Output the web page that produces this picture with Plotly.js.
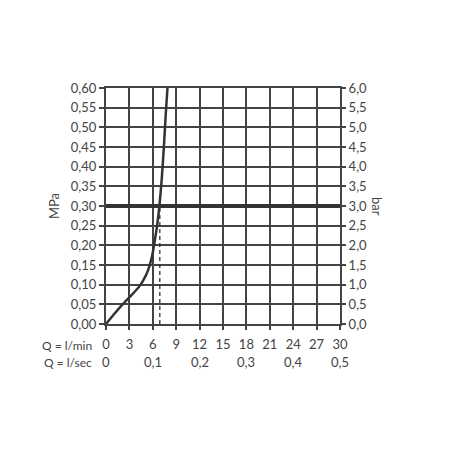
<!DOCTYPE html>
<html>
<head>
<meta charset="utf-8">
<script src="https://cdn.plot.ly/plotly-3.0.1.min.js"></script>
<style>html,body{margin:0;padding:0;background:#fff;}#chart{width:450px;height:450px;}</style>
</head>
<body>
<div id="chart"></div>
<script>
// Flow curve: Q (l/min) vs pressure (MPa)
const flowLmin = [0, 0.94, 2.13, 3.3, 4.0, 4.5, 5.0, 5.4, 5.75, 6.0, 6.2, 6.55, 6.85, 7.15, 7.42, 7.65, 7.88];
const pressureMPa = [0, 0.023, 0.05, 0.074, 0.089, 0.102, 0.119, 0.137, 0.16, 0.182, 0.205, 0.25, 0.30, 0.37, 0.45, 0.53, 0.60];
// Operating point (dashed drop line)
const opFlow = [6.9, 6.9];
const opPressure = [0, 0.30];
// Reference pressure line
const refX = [0, 30];
const refPressure = [0.30, 0.30];
// Secondary flow scale (l/sec)
const flowLsec = [0, 0.1, 0.2, 0.3, 0.4, 0.5];
const flowLsecLabels = ['0', '0,1', '0,2', '0,3', '0,4', '0,5'];

const ink = '#333333';
const grid = '#444444';
const txt = '#444444';
const fontFam = 'Lato, "DejaVu Sans", sans-serif';

const traces = [
  {x: refX, y: refPressure, mode: 'lines', line: {color: ink, width: 4}, hoverinfo: 'skip'},
  {x: opFlow, y: opPressure, mode: 'lines', line: {color: ink, width: 1.3, dash: '4px,3px'}, hoverinfo: 'skip'},
  {x: flowLmin, y: pressureMPa, mode: 'lines', line: {color: ink, width: 2.5, shape: 'spline', smoothing: 0.6}}
];

const annotations = flowLsec.map((v, i) => ({
  x: v * 60, y: 0, xref: 'x', yref: 'paper', yshift: -38, text: flowLsecLabels[i],
  showarrow: false, font: {family: fontFam, size: 13, color: txt}, xanchor: 'center', yanchor: 'middle'
}));
annotations.push({x: 0, y: 0, xref: 'paper', yref: 'paper', xshift: -12, yshift: -21, text: 'Q = l/min',
  showarrow: false, xanchor: 'right', yanchor: 'middle', font: {family: fontFam, size: 12, color: txt}});
annotations.push({x: 0, y: 0, xref: 'paper', yref: 'paper', xshift: -12, yshift: -38, text: 'Q = l/sec',
  showarrow: false, xanchor: 'right', yanchor: 'middle', font: {family: fontFam, size: 12, color: txt}});
annotations.push({x: 1, y: 0.5, xref: 'paper', yref: 'paper', xshift: 37, text: 'bar', textangle: 90,
  showarrow: false, xanchor: 'center', yanchor: 'middle', font: {family: fontFam, size: 13, color: txt}});

const layout = {
  width: 450, height: 450,
  margin: {l: 106, r: 110, t: 88, b: 126},
  separators: ', ',
  showlegend: false,
  paper_bgcolor: '#fff', plot_bgcolor: '#fff',
  font: {family: fontFam, size: 13, color: txt},
  xaxis: {range: [0, 30], dtick: 3, tick0: 0, showgrid: true, gridcolor: grid, gridwidth: 2,
    showline: true, linecolor: grid, linewidth: 2, mirror: true, ticks: 'outside', ticklen: 4,
    tickcolor: grid, tickwidth: 2, zeroline: false, fixedrange: true, ticklabelstandoff: 3},
  yaxis: {range: [0, 0.6], dtick: 0.05, tick0: 0, tickformat: '.2f', showgrid: true, gridcolor: grid, gridwidth: 2,
    showline: true, linecolor: grid, linewidth: 2, mirror: true, ticks: 'outside', ticklen: 5,
    tickcolor: grid, tickwidth: 2, zeroline: false, fixedrange: true,
    title: {text: 'MPa', standoff: 8, font: {family: fontFam, size: 13, color: txt}}},
  yaxis2: {range: [0, 6], dtick: 0.5, tick0: 0, tickformat: '.1f', overlaying: 'y', side: 'right',
    showgrid: false, showline: false, ticks: 'outside', ticklen: 5, tickcolor: grid, tickwidth: 2,
    zeroline: false, fixedrange: true},
  annotations: annotations
};
// invisible trace so the right (bar) axis is drawn
traces.push({x: [0], y: [0], yaxis: 'y2', mode: 'markers', marker: {opacity: 0}, hoverinfo: 'skip'});

Plotly.newPlot('chart', traces, layout, {displayModeBar: false, staticPlot: true});
</script>
</body>
</html>
